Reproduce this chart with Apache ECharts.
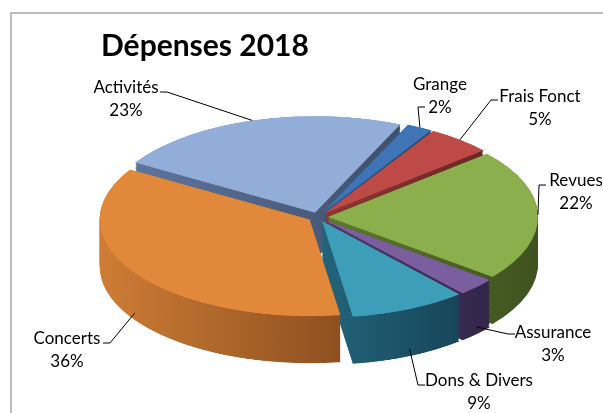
<!DOCTYPE html>
<html><head><meta charset="utf-8">
<script src="https://cdn.jsdelivr.net/npm/echarts@6/dist/echarts.min.js"></script>
<style>
html,body{margin:0;padding:0;background:#fff;width:603px;height:413px;overflow:hidden;}
#body3d{position:absolute;left:0;top:0;width:603px;transform-origin:0 0;}
#over{position:absolute;left:0;top:0;width:603px;height:413px;}
</style></head><body>
<div id="body3d"></div><div id="over"></div>
<script>
// ---- data ----
const categories = ['Grange', 'Frais Fonct', 'Revues', 'Assurance', 'Dons & Divers', 'Concerts', 'Activités'];
const values = [2, 5, 22, 3, 9, 36, 23];
const chartTitle = 'Dépenses 2018';

// ---- styles ----
const topColors = ['#3F74B6', '#BD4A47', '#8CAF4D', '#7B5E9F', '#3D9EBA', '#E1883B', '#93ADD9'];
const sideColors = [
  ['#2F5A8E', '#24476F'], ['#8E3634', '#6A2726'], ['#5E7A2E', '#3F5220'],
  ['#4E3A68', '#33264A'], ['#23647A', '#17465A'], ['#CF7D35', '#8E5021'], ['#5F759C', '#3E4F6C']
];
const K = 0.46;          // vertical squash of the pie (3D tilt)
const CX = 318, CY = 217, R = 210, DEPTH = 47, EXPLODE = 10, START = 66;
const H1 = Math.round(413 / K);

// label placement (final pixels)
const labelCfg = {
  'Activités':     { pos: [126, 98],  end: [160, 92] },
  'Grange':        { pos: [440, 95],  end: [425, 107] },
  'Frais Fonct':   { pos: [540, 107], end: [498, 100] },
  'Revues':        { pos: [576, 191], end: [546, 185] },
  'Assurance':     { pos: [553, 343], end: [515, 334] },
  'Dons & Divers': { pos: [479, 391], end: [425, 385] },
  'Concerts':      { pos: [67, 349],  end: [103, 343] }
};

// ---- 3D body (drawn in a vertically squashed container) ----
const bodyEl = document.getElementById('body3d');
bodyEl.style.height = H1 + 'px';
bodyEl.style.transform = 'scaleY(' + K + ')';
const body = echarts.init(bodyEl, null, { width: 603, height: H1, renderer: 'canvas' });

function grad(c) {
  return { type: 'linear', x: 0, y: 0, x2: 1, y2: 0,
    colorStops: [{ offset: 0, color: c[0] }, { offset: 1, color: c[1] }] };
}
function makePie(d, side) {
  return {
    type: 'pie', center: [CX, CY / K + d / K], radius: R, startAngle: START, clockwise: true,
    selectedMode: 'multiple', selectedOffset: EXPLODE, silent: true, animation: false,
    avoidLabelOverlap: false, label: { show: false }, labelLine: { show: false },
    emphasis: { disabled: true },
    itemStyle: { borderWidth: 0 },
    data: categories.map((c, i) => ({
      name: c, value: values[i], selected: true,
      itemStyle: { color: side ? grad(sideColors[i]) : topColors[i], borderWidth: 0 }
    }))
  };
}
const bodySeries = [];
for (let d = DEPTH; d > 0; d -= 1.2) bodySeries.push(makePie(d, true));
bodySeries.push(makePie(0, false));
body.setOption({ animation: false, series: bodySeries });

// ---- overlay: frame, title, labels ----
const over = echarts.init(document.getElementById('over'), null, { width: 603, height: 413, renderer: 'svg' });
const total = values.reduce((a, b) => a + b, 0);
function anchorFor(idx, p0) {
  let nx, ny, x, y;
  if (p0) {
    nx = (p0[0] - CX) / R; ny = (p0[1] - CY) / R; x = p0[0]; y = p0[1];
  } else {
    let cum = 0; for (let i = 0; i < idx; i++) cum += values[i];
    const a = (90 - START + 360 * (cum + values[idx] / 2) / total) * Math.PI / 180;
    nx = Math.sin(a); ny = -Math.cos(a); x = CX + R * nx; y = CY + R * ny;
  }
  const ax = x + EXPLODE * nx;
  const ay = CY + (y - CY) * K + EXPLODE * ny * K + (ny > 0.2 ? DEPTH * 0.85 : 0);
  return [ax, ay];
}
over.setOption({
  animation: false,
  backgroundColor: 'transparent',
  title: {
    text: chartTitle, left: 101, top: 29, padding: 0,
    textStyle: { fontFamily: 'Lato', fontWeight: 'bold', fontSize: 30, color: '#000' }
  },
  graphic: [{
    type: 'rect', silent: true,
    shape: { x: 11, y: 13, width: 700, height: 500 },
    style: { fill: 'none', stroke: '#A6A6A6', lineWidth: 1.5 }
  }],
  series: [{
    type: 'pie', center: [CX, CY], radius: R, startAngle: START, clockwise: true,
    silent: true, avoidLabelOverlap: false, animation: false,
    itemStyle: { color: 'rgba(0,0,0,0)', borderWidth: 0 },
    emphasis: { disabled: true },
    label: {
      show: true, position: 'outside', fontFamily: 'Lato', fontSize: 17, lineHeight: 23,
      color: '#000', align: 'center',
      formatter: p => p.name + '\n' + Math.round(p.percent) + '%'
    },
    labelLine: { show: true, length: 10, length2: 10, lineStyle: { color: '#000', width: 1 } },
    labelLayout: function (params) {
      const name = categories[params.dataIndex];
      const cfg = labelCfg[name];
      const p0 = params.labelLinePoints ? params.labelLinePoints[0] : null;
      const a = anchorFor(params.dataIndex, p0);
      const dir = cfg.end[0] < CX ? 1 : -1;
      return {
        x: cfg.pos[0], y: cfg.pos[1], align: 'center', verticalAlign: 'middle',
        labelLinePoints: [a, [cfg.end[0] + dir * 7, cfg.end[1]], cfg.end]
      };
    },
    data: categories.map((c, i) => ({ name: c, value: values[i] }))
  }]
});
</script>
</body></html>
